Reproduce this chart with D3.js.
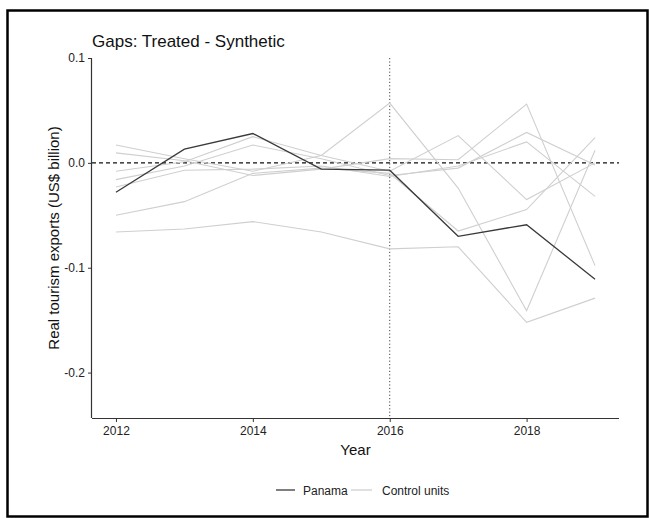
<!DOCTYPE html>
<html><head><meta charset="utf-8">
<script src="https://cdn.jsdelivr.net/npm/d3@7"></script>
<style>body{margin:0;background:#fff}svg{display:block}text{font-family:"Liberation Sans",Arial,sans-serif}</style>
</head><body><svg id="c" width="649" height="518"></svg>
<script>
const years = [2012, 2013, 2014, 2015, 2016, 2017, 2018, 2019];
const panama = [-0.028, 0.013, 0.028, -0.006, -0.007, -0.070, -0.059, -0.111];
const control1 = [0.017, 0.004, -0.008, 0.007, 0.057, -0.024, -0.141, 0.012];
const control2 = [0.0095, 0.002, -0.012, -0.006, 0.004, 0.003, 0.056, -0.098];
const control3 = [-0.008, 0.001, 0.025, 0.007, -0.008, 0.026, -0.035, 0.000];
const control4 = [-0.016, -0.003, 0.017, 0.004, -0.012, -0.005, 0.029, -0.002];
const control5 = [-0.023, -0.007, -0.006, -0.003, -0.013, -0.003, 0.020, -0.032];
const control6 = [-0.050, -0.037, -0.010, -0.005, -0.010, -0.065, -0.0445, 0.024];
const control7 = [-0.066, -0.063, -0.056, -0.066, -0.082, -0.080, -0.152, -0.129];
const controls = [control1, control2, control3, control4, control5, control6, control7];
const xTicks = [2012, 2014, 2016, 2018];
const yTicks = [0.1, 0.0, -0.1, -0.2];
const treatYear = 2016;
const title = "Gaps: Treated - Synthetic";
const xTitle = "Year";
const yTitle = "Real tourism exports (US$ billion)";
const legendLabels = ["Panama", "Control units"];

const svg = d3.select("#c");
// frame
svg.append("rect").attr("x", 7.5).attr("y", 10.5).attr("width", 640).attr("height", 506)
  .attr("fill", "none").attr("stroke", "#000").attr("stroke-width", 2.5);

const L = 92, R = 619, T = 58, B = 418;
const x = d3.scaleLinear().domain([2011.65, 2019.35]).range([L, R]);
const y = d3.scaleLinear().domain([-0.2433, 0.1]).range([B, T]);

const line = d3.line().x((d, i) => x(years[i])).y(d => y(d));

// zero dashed line
svg.append("line").attr("x1", L).attr("x2", R).attr("y1", y(0)).attr("y2", y(0))
  .attr("stroke", "#111").attr("stroke-width", 1.2).attr("stroke-dasharray", "4,3");
// vertical dotted
svg.append("line").attr("x1", x(treatYear)).attr("x2", x(treatYear)).attr("y1", T).attr("y2", B)
  .attr("stroke", "#444").attr("stroke-width", 1).attr("stroke-dasharray", "1.2,2.2");

const g = svg.append("g");
controls.forEach(c => g.append("path").attr("d", line(c)).attr("fill", "none")
  .attr("stroke", "#cfcfcf").attr("stroke-width", 1.1));
g.append("path").attr("d", line(panama)).attr("fill", "none")
  .attr("stroke", "#3a3a3a").attr("stroke-width", 1.3);

// axes
const fmtY = d => d3.format(".1f")(d).replace("\u2212", "-");
const xa = svg.append("g").attr("transform", `translate(0,${B})`)
  .call(d3.axisBottom(x).tickValues(xTicks).tickFormat(d3.format("d")).tickSizeOuter(0).tickSize(4).tickPadding(4));
const ya = svg.append("g").attr("transform", `translate(${L},0)`)
  .call(d3.axisLeft(y).tickValues(yTicks).tickFormat(fmtY).tickSizeOuter(0).tickSize(4).tickPadding(3));
[xa, ya].forEach(a => {
  a.select(".domain").attr("stroke", "#333").attr("stroke-width", 1.2);
  a.selectAll(".tick line").attr("stroke", "#333").attr("stroke-width", 1);
  a.selectAll(".tick text").attr("fill", "#222").style("font-size", "12px").style("font-family", "'Liberation Sans',Arial,sans-serif");
});
xa.select(".domain").attr("d", `M${L},0.5H${R}`);
ya.select(".domain").attr("d", `M-0.5,${T}V${B}`);

svg.append("text").attr("x", L).attr("y", 47).text(title).attr("font-size", 17).attr("fill", "#111");
svg.append("text").attr("x", (L + R) / 2).attr("y", 455).attr("text-anchor", "middle").text(xTitle)
  .attr("font-size", 15).attr("fill", "#111");
svg.append("text").attr("transform", `translate(59,${(T + B) / 2}) rotate(-90)`).attr("text-anchor", "middle")
  .text(yTitle).attr("font-size", 15).attr("fill", "#111");

// legend
const lg = svg.append("g");
const items = [{lab: legendLabels[0], col: "#3a3a3a", x1: 276, x2: 295, tx: 303},
               {lab: legendLabels[1], col: "#cfcfcf", x1: 351, x2: 372, tx: 382}];
items.forEach(it => {
  lg.append("line").attr("x1", it.x1).attr("x2", it.x2).attr("y1", 490).attr("y2", 490)
    .attr("stroke", it.col).attr("stroke-width", 1.3);
  lg.append("text").attr("x", it.tx).attr("y", 494.5).text(it.lab).attr("font-size", 12).attr("fill", "#222");
});
</script></body></html>
